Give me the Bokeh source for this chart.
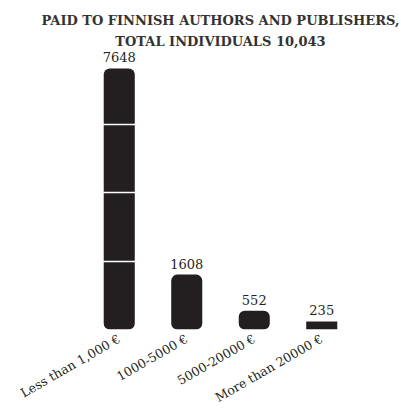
import math
from bokeh.plotting import figure
from bokeh.models import Title, Range1d, FactorRange, FixedTicker, ColumnDataSource
from bokeh.core.properties import value
from bokeh.embed import file_html
from bokeh.resources import INLINE

categories = ["Less than 1,000 €", "1000-5000 €", "5000-20000 €", "More than 20000 €"]
counts = [7648, 1608, 552, 235]
grid_values = [2000, 4000, 6000]
subtitle_1 = "PAID TO FINNISH AUTHORS AND PUBLISHERS,"
subtitle_2 = "TOTAL INDIVIDUALS 10,043"

FONT = "DejaVu Serif"
INK = "#231f20"

p = figure(x_range=FactorRange(*categories), y_range=Range1d(0, 8234),
           width=401, height=414, output_backend="svg", toolbar_location=None,
           title=None, min_border_left=85, min_border_right=46,
           min_border_top=48, min_border_bottom=0, outline_line_color=None)

t2 = Title(text=subtitle_2, align="center", text_font=FONT, text_font_size="13px",
           text_font_style="bold", text_color="#333333", standoff=0)
t1 = Title(text=subtitle_1, align="center", text_font=FONT, text_font_size="13px",
           text_font_style="bold", text_color="#333333", standoff=7)
p.add_layout(t2, "above")
p.add_layout(t1, "above")

src_round = ColumnDataSource(dict(x=categories[:3], top=counts[:3]))
src_flat = ColumnDataSource(dict(x=categories[3:], top=counts[3:]))
p.vbar(x="x", top="top", width=0.46, source=src_round, fill_color=INK,
       line_color=None, border_radius=6)
p.vbar(x="x", top="top", width=0.46, source=src_flat, fill_color=INK,
       line_color=None)

lbl = p.text(x=categories, y=counts, text=[str(c) for c in counts], y_offset=-6,
             text_align="center", text_baseline="bottom", text_font=value(FONT),
             text_font_size="13px", text_color=INK)
lbl.level = "annotation"

p.xgrid.grid_line_color = None
p.ygrid.ticker = FixedTicker(ticks=grid_values)
p.ygrid.grid_line_color = "white"
p.ygrid.grid_line_width = 1.5
p.ygrid.level = "guide"

p.yaxis.visible = False
p.xaxis.axis_line_color = None
p.xaxis.major_tick_line_color = None
p.xaxis.minor_tick_line_color = None
p.xaxis.major_label_orientation = math.radians(30)
p.xaxis.major_label_text_font = FONT
p.xaxis.major_label_text_font_size = "12.5px"
p.xaxis.major_label_text_color = INK
p.xaxis.major_label_standoff = 2

open("out.html", "w").write(file_html(p, INLINE))
